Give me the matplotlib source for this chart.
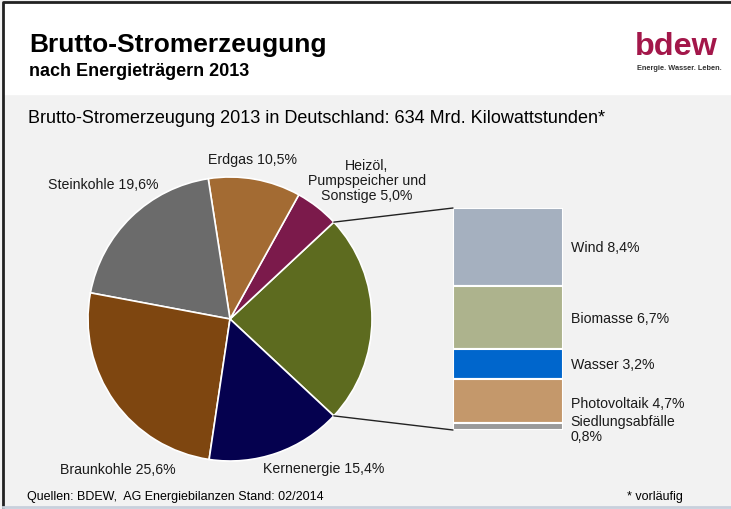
import numpy as np
import matplotlib.pyplot as plt
from matplotlib.patches import Rectangle, ConnectionPatch

plt.rcParams['font.family'] = ['Liberation Sans', 'DejaVu Sans']

# main pie: shares of gross electricity generation 2013 (%)
pie_labels = ["Erneuerbare", "Heizöl", "Erdgas", "Steinkohle", "Braunkohle", "Kernenergie"]
pie_values = [23.9, 5.0, 10.5, 19.6, 25.6, 15.4]
pie_colors = ["#5d6b1f", "#7b1a4b", "#a36b33", "#6b6b6b", "#7e4610", "#05014f"]

# breakdown of renewables, top to bottom
ren_labels = ["Wind 8,4%", "Biomasse 6,7%", "Wasser 3,2%", "Photovoltaik 4,7%", "Siedlungsabfälle\n0,8%"]
ren_values = [8.4, 6.7, 3.2, 4.7, 0.8]
ren_colors = ["#a5b0bf", "#adb38d", "#0066cc", "#c4986b", "#9a9a9a"]

W, H = 731, 510
fig = plt.figure(figsize=(W / 100, H / 100), dpi=100)

# background axes in pixel coordinates (y down)
bg = fig.add_axes([0, 0, 1, 1])
bg.set_xlim(0, W)
bg.set_ylim(H, 0)
bg.axis('off')
bg.add_patch(Rectangle((0, 0), W, H, color="#f2f2f2", zorder=0))
bg.add_patch(Rectangle((3, 3), W, 92, color="white", zorder=0))
bg.plot([3, 3, W], [H, 3, 3], color="#222222", lw=2, zorder=1)
bg.plot([3, W], [H - 2, H - 2], color="#c8d0dc", lw=2, zorder=1)

bg.text(29, 52, "Brutto-Stromerzeugung", fontsize=19, fontweight='bold', va='baseline')
bg.text(29, 76, "nach Energieträgern 2013", fontsize=13, fontweight='bold', va='baseline')
bg.text(635, 55, "bdew", fontsize=23.3, fontweight='bold', color="#a3174a", va='baseline')
bg.text(637, 68, "Energie. Wasser. Leben.", fontsize=5.3, fontweight='bold',
        color="#333333", va='center')
bg.text(28, 123, "Brutto-Stromerzeugung 2013 in Deutschland: 634 Mrd. Kilowattstunden*",
        fontsize=13, va='baseline')
bg.text(27, 497, "Quellen: BDEW,  AG Energiebilanzen Stand: 02/2014", fontsize=9, va='center')
bg.text(627, 497, "* vorläufig", fontsize=9, va='center')

# pie labels
fs = 10.2
lab = dict(fontsize=fs, color="#1a1a1a", va='center')
bg.text(48, 185, "Steinkohle 19,6%", **lab)
bg.text(208, 160, "Erdgas 10,5%", **lab)
bg.text(367, 181, "Heizöl,\nPumpspeicher und\nSonstige 5,0%", ha='center',
        multialignment='center', linespacing=1.1, **lab)
bg.text(60, 470, "Braunkohle 25,6%", **lab)
bg.text(263, 469, "Kernenergie 15,4%", **lab)
bg.text(309, 319, "Erneuerbare\n23,9%", ha='center', va='center', fontsize=fs,
        color="white", linespacing=1.1)

# pie
cx, cy, r = 230, 320, 142
pax = fig.add_axes([(cx - r) / W, (H - cy - r) / H, 2 * r / W, 2 * r / H])
start = -pie_values[0] / 2 * 3.6
wedges, _ = pax.pie(pie_values, colors=pie_colors, startangle=start, counterclock=True,
                    wedgeprops=dict(edgecolor="white", linewidth=1.2))
pax.set_xlim(-1, 1)
pax.set_ylim(-1, 1)

# stacked bar of renewables
bx0, bx1, by0, by1 = 453, 563, 209, 431
bax = fig.add_axes([bx0 / W, (H - by1) / H, (bx1 - bx0) / W, (by1 - by0) / H])
total = sum(ren_values)
tops = total - np.cumsum([0] + ren_values[:-1])
for v, t, c in zip(ren_values, tops, ren_colors):
    bax.bar(0, v, bottom=t - v, width=1, align='edge', color=c, edgecolor="white", linewidth=1.5)
bax.set_xlim(0, 1)
bax.set_ylim(0, total)
bax.axis('off')
for v, t, l in zip(ren_values, tops, ren_labels):
    yy = t - v / 2
    if l.startswith("Photo"):
        yy -= 0.3
    if l.startswith("Sied"):
        yy -= 0.2
    bax.text(1.07, yy, l, fontsize=fs, color="#1a1a1a", va='center', ha='left',
             transform=bax.get_yaxis_transform(), linespacing=1.1)

# connector lines from renewables wedge to bar
w = wedges[0]
for ang, yb in [(w.theta2, total), (w.theta1, 0)]:
    a = np.deg2rad(ang)
    con = ConnectionPatch(xyA=(np.cos(a), np.sin(a)), coordsA=pax.transData,
                          xyB=(0, yb), coordsB=bax.transData, color="#222222", lw=1)
    fig.add_artist(con)

fig.savefig("out.png", dpi=100)
